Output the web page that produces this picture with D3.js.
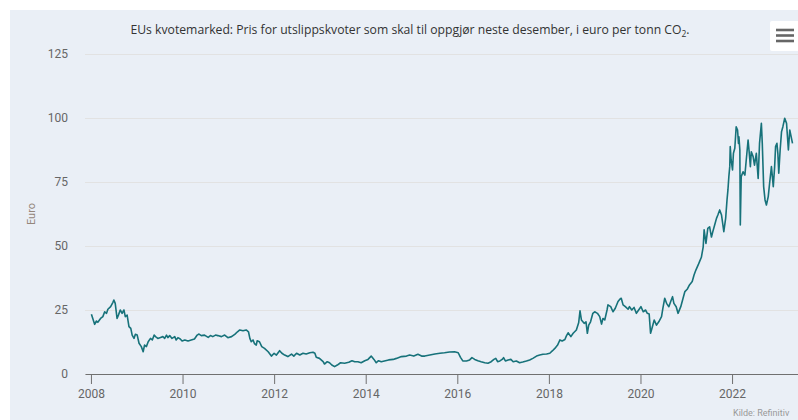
<!DOCTYPE html>
<html>
<head>
<meta charset="utf-8">
<script src="https://cdn.jsdelivr.net/npm/d3@7"></script>
<style>
body{margin:0;background:#ffffff;}
svg{display:block;font-family:Roboto,"Open Sans",sans-serif;}
</style>
</head>
<body>
<svg id="kvotegraph"></svg>
<script>
// price of EU emission allowances (Dec contract)
var dates = [
 2008.01,2008.08,2008.12,2008.15,2008.21,2008.26,2008.30,2008.34,2008.37,2008.43,2008.48,2008.50,2008.53,2008.57,2008.60,2008.64,2008.68,2008.72,2008.75,2008.79,
 2008.83,2008.87,2008.90,2008.94,2008.97,2009.01,2009.05,2009.10,2009.14,2009.17,2009.21,2009.25,2009.30,2009.34,2009.38,2009.41,2009.46,2009.52,2009.57,2009.61,
 2009.65,2009.68,2009.72,2009.77,2009.83,2009.86,2009.90,2009.95,2009.99,2010.05,2010.12,2010.19,2010.26,2010.32,2010.36,2010.41,2010.48,2010.56,2010.61,2010.66,
 2010.72,2010.77,2010.85,2010.92,2010.99,2011.07,2011.14,2011.20,2011.25,2011.32,2011.39,2011.44,2011.47,2011.50,2011.54,2011.57,2011.61,
 2011.63,2011.68,2011.73,2011.79,2011.87,2011.94,2012.00,2012.05,2012.12,2012.17,2012.23,2012.30,2012.38,2012.43,2012.49,2012.56,2012.63,2012.70,2012.78,2012.85,
 2012.89,2012.92,2012.99,2013.07,2013.10,2013.16,2013.21,2013.26,2013.32,2013.38,2013.45,2013.54,2013.63,2013.70,2013.76,2013.83,2013.90,2013.98,2014.05,2014.12,
 2014.18,2014.23,2014.28,2014.34,2014.43,2014.50,2014.60,2014.67,2014.78,2014.89,2014.96,2015.05,2015.14,2015.22,
 2015.29,2015.40,2015.51,2015.62,2015.72,2015.83,2015.94,2016.02,2016.07,2016.12,2016.20,2016.27,2016.32,2016.38,2016.45,2016.52,2016.60,2016.67,2016.74,2016.80,
 2016.84,2016.88,2016.93,2016.98,2017.01,2017.05,2017.11,2017.17,2017.22,2017.29,2017.36,2017.43,2017.51,2017.58,2017.65,2017.73,2017.80,2017.87,2017.95,2018.02,
 2018.08,2018.13,2018.19,2018.24,2018.29,2018.35,2018.38,2018.42,2018.48,2018.53,2018.60,2018.65,2018.68,2018.71,2018.77,2018.81,2018.84,2018.87,2018.91,2018.96,
 2019.00,2019.06,2019.11,2019.15,2019.18,2019.22,2019.27,2019.29,2019.35,2019.40,2019.45,2019.51,2019.55,2019.58,2019.62,2019.67,2019.73,2019.76,2019.81,2019.86,
 2019.91,2019.96,2020.01,2020.06,2020.11,2020.15,2020.19,2020.22,2020.25,2020.30,2020.35,2020.40,2020.46,2020.49,2020.53,2020.57,2020.62,2020.66,2020.70,2020.73,
 2020.78,2020.82,2020.88,2020.93,2020.97,2021.02,2021.07,2021.13,2021.17,2021.21,2021.26,2021.29,2021.33,2021.37,2021.39,
 2021.43,2021.47,2021.51,2021.55,2021.58,2021.62,2021.66,2021.69,2021.73,2021.77,2021.80,2021.82,2021.86,2021.89,2021.91,2021.93,2021.95,2021.96,2021.98,2022.01,
 2022.03,2022.06,2022.09,2022.12,2022.14,2022.15,2022.17,2022.18,2022.20,2022.24,2022.28,2022.31,2022.35,2022.37,2022.40,2022.42,2022.46,2022.49,2022.53,2022.57,
 2022.60,2022.64,2022.66,2022.69,2022.72,2022.75,2022.79,2022.82,2022.86,2022.90,2022.93,2022.95,2022.98,2023.00,2023.02,2023.05,2023.08,2023.11,2023.15,2023.19,
 2023.21,2023.23,2023.26,2023.29,2023.32
];
var prices = [
 23.3,19.4,20.7,20.2,21.7,22.4,24.3,23.7,25.3,26.3,28.0,28.9,27.6,21.7,23.0,25.0,23.7,25.0,22.4,23.0,
 18.5,17.8,15.2,13.9,15.5,15.2,12.0,10.7,8.7,11.3,10.7,12.6,13.9,13.3,15.2,14.6,13.9,14.3,14.6,13.9,
 15.2,14.2,15.0,13.9,14.6,13.3,14.2,13.7,12.9,13.3,12.9,13.3,13.7,15.2,15.6,15.0,15.2,14.3,15.0,14.6,
 15.2,15.0,14.6,15.2,14.2,14.6,15.5,16.5,17.2,16.9,17.2,16.5,13.9,12.6,13.3,11.9,11.3,
 13.0,12.6,10.7,10.0,8.7,7.0,8.1,7.4,9.1,8.1,7.4,6.8,7.8,7.0,8.1,7.4,8.1,7.8,8.3,8.5,
 8.1,6.5,6.1,4.8,3.9,4.8,4.4,3.5,2.9,3.5,4.4,4.2,4.6,5.2,4.8,4.8,4.4,5.2,5.7,7.0,
 5.7,4.4,5.2,4.8,5.2,5.5,5.7,6.1,6.8,7.0,7.4,7.0,7.7,7.0,
 7.0,7.4,7.8,8.1,8.3,8.6,8.7,8.3,6.5,5.1,5.1,5.5,6.4,5.7,5.2,4.8,4.4,4.2,4.8,5.7,
 6.1,4.8,5.1,5.7,6.4,5.1,5.5,5.7,4.8,5.1,4.4,4.7,5.1,5.5,6.1,7.0,7.4,7.7,7.8,8.1,
 9.1,10.0,11.3,13.3,12.9,13.5,14.8,16.1,14.6,15.9,17.2,20.0,24.7,21.1,19.8,20.4,15.9,19.1,20.4,23.7,
 24.3,23.7,22.4,19.5,21.7,21.1,25.0,27.0,26.3,24.3,25.7,28.3,29.2,29.6,27.0,26.3,25.3,26.3,25.0,26.0,
 23.7,25.0,26.3,24.3,25.0,23.7,23.4,15.9,17.8,21.1,19.1,20.4,22.4,25.7,29.6,27.6,26.3,28.3,30.2,27.6,
 26.3,23.7,26.3,29.6,32.2,33.1,34.8,36.1,38.7,40.6,42.6,43.9,45.6,49.7,56.3,
 51.0,56.9,57.5,53.5,55.6,58.2,60.8,62.1,64.1,62.1,58.2,55.6,60.8,68.0,71.9,77.1,81.0,88.8,83.6,79.7,
 86.2,88.2,96.6,95.3,90.1,92.7,87.5,58.2,77.1,79.0,77.7,83.6,91.4,87.5,81.0,86.8,84.9,81.6,86.2,76.4,
 90.1,97.9,90.1,73.2,68.0,66.0,69.3,74.5,81.0,73.2,81.0,88.8,90.1,86.2,78.4,87.5,94.6,96.6,99.9,97.9,
 92.7,87.5,95.3,92.7,90.1
];
var yTicks = [0,25,50,75,100,125];
var xTicks = [2008,2010,2012,2014,2016,2018,2020,2022];
var yTitle = "Euro";
var creditText = "Kilde: Refinitiv";

var screen = {width:798,height:420};
var plot = {left:85,right:798,top:54,bottom:374};

var svg = d3.select("#kvotegraph")
    .attr("width",screen.width)
    .attr("height",screen.height);

// panel background
svg.append("rect")
    .attr("x",10).attr("y",10)
    .attr("width",screen.width-10)
    .attr("height",screen.height-10)
    .attr("fill","#eaeff6");

var xScale = d3.scaleLinear()
    .domain([2007.87,2023.44])
    .range([plot.left,plot.right]);

var yScale = d3.scaleLinear()
    .domain([0,125])
    .range([plot.bottom,plot.top]);

// y grid + labels
var yAxis = d3.axisLeft(yScale)
    .tickValues(yTicks)
    .tickSize(-(plot.right-plot.left))
    .tickPadding(17);

var yG = svg.append("g")
    .attr("transform","translate("+plot.left+",0)")
    .call(yAxis);
yG.select(".domain").remove();
yG.selectAll(".tick line").attr("stroke","#e2e2e2");
yG.selectAll(".tick text")
    .attr("fill","#666666")
    .attr("font-size","12px")
    .attr("font-family","Roboto");

// x axis
var xAxis = d3.axisBottom(xScale)
    .tickValues(xTicks)
    .tickFormat(d3.format("d"))
    .tickSize(10)
    .tickSizeOuter(0)
    .tickPadding(5);

var xG = svg.append("g")
    .attr("transform","translate(0,"+plot.bottom+")")
    .call(xAxis);
xG.select(".domain").attr("stroke","#707070");
xG.selectAll(".tick line").attr("stroke","#707070");
xG.selectAll(".tick text")
    .attr("fill","#666666")
    .attr("font-size","12px")
    .attr("font-family","Roboto");

// price line
var series = dates.map(function(d,i){ return {year:d, price:prices[i]}; });
var line = d3.line()
    .x(function(d){ return xScale(d.year); })
    .y(function(d){ return yScale(d.price); });

svg.append("path")
    .datum(series)
    .attr("d",line)
    .attr("fill","none")
    .attr("stroke","#17727a")
    .attr("stroke-width",1.6)
    .attr("stroke-linejoin","round");

// title with subscript
var title = svg.append("text")
    .attr("x",410)
    .attr("y",34)
    .attr("text-anchor","middle")
    .attr("fill","#333333")
    .attr("font-family","'Open Sans'")
    .attr("font-size","12.2px");
title.append("tspan").text("EUs kvotemarked: Pris for utslippskvoter som skal til oppgjør neste desember, i euro per tonn CO");
title.append("tspan").attr("font-size","8.5px").attr("dy",3).text("2");
title.append("tspan").attr("dy",-3).text(".");

// y axis title
svg.append("text")
    .attr("transform","translate(35,"+((plot.top+plot.bottom)/2)+") rotate(-90)")
    .attr("text-anchor","middle")
    .attr("fill","#94867b")
    .attr("font-size","11px")
    .text(yTitle);

// credits
svg.append("text")
    .attr("x",733)
    .attr("y",416)
    .attr("fill","#999999")
    .attr("font-size","9px")
    .text(creditText);

// export menu button
var menu = svg.append("g");
menu.append("rect")
    .attr("x",770).attr("y",21)
    .attr("width",34).attr("height",30)
    .attr("rx",2)
    .attr("fill","#ffffff");
menu.selectAll("line")
    .data([30,35.5,41])
    .enter()
    .append("line")
    .attr("x1",776).attr("x2",794)
    .attr("y1",function(d){return d;})
    .attr("y2",function(d){return d;})
    .attr("stroke","#666666")
    .attr("stroke-width",2.6);
</script>
</body>
</html>
